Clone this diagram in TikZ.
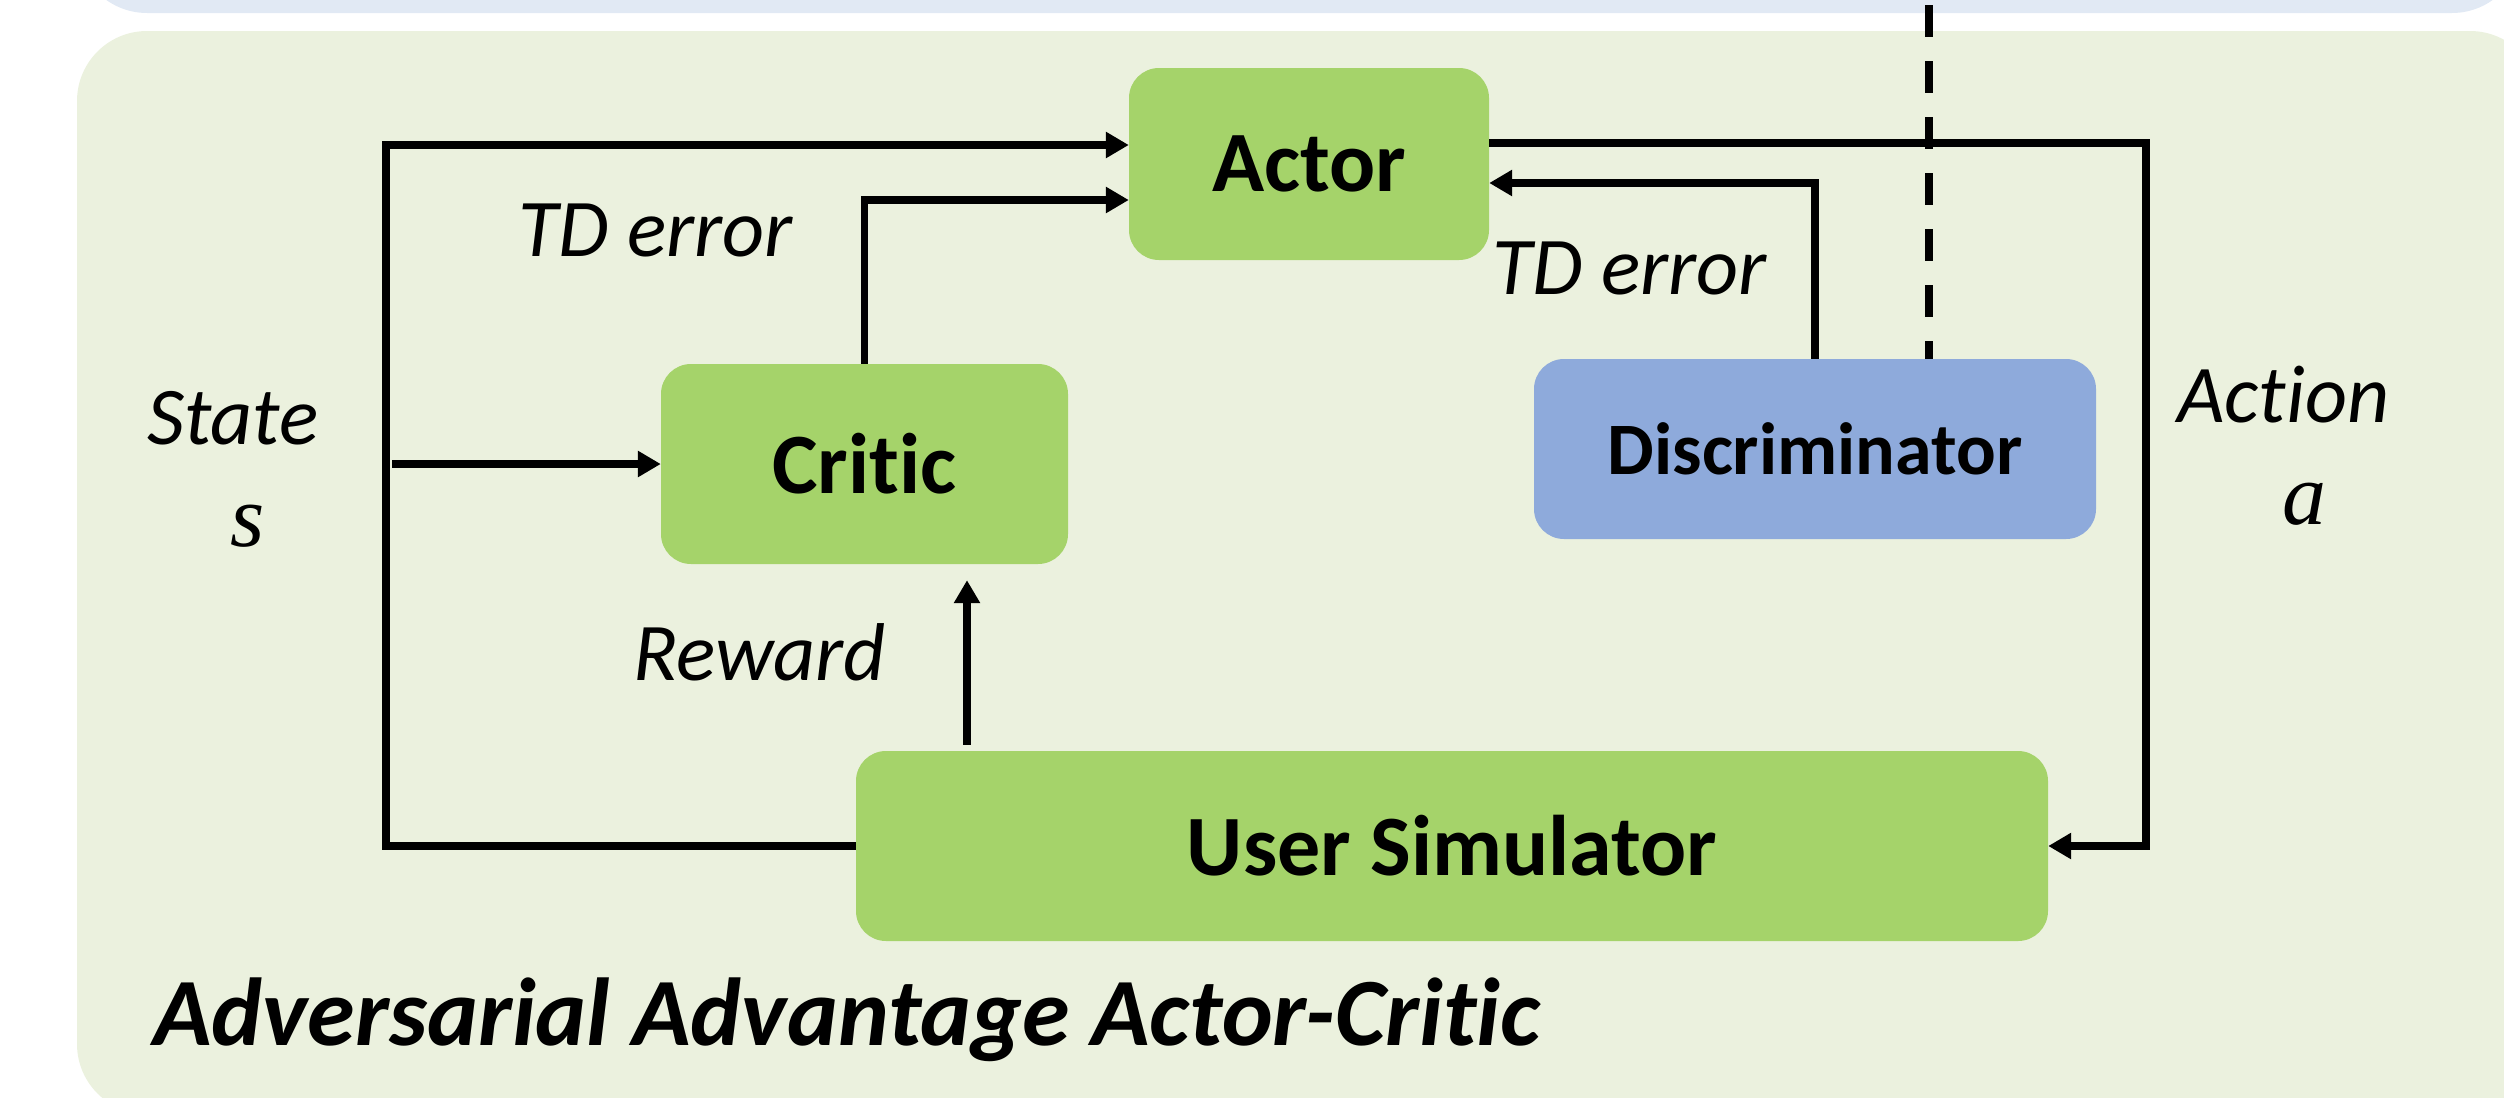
\documentclass[tikz,border=0pt]{standalone}
\usepackage{fontspec}
\setmainfont[Ligatures={NoCommon}]{Carlito}
\newfontfamily\varfont{Liberation Serif}
\usetikzlibrary{arrows.meta,calc}
\definecolor{panelgreen}{HTML}{EBF1DE}
\definecolor{bandblue}{HTML}{E1E9F4}
\definecolor{boxgreen}{HTML}{A5D36A}
\definecolor{boxblue}{HTML}{8EAADB}
\begin{document}
\begin{tikzpicture}[x=1pt,y=-1pt,
  box/.style={rounded corners=30pt, inner sep=0pt, font=\fontsize{86}{100}\selectfont\bfseries},
  lbl/.style={inner sep=0pt, anchor=base west, font=\fontsize{82}{96}\selectfont\itshape},
  varlbl/.style={inner sep=0pt, anchor=base, font=\fontsize{88}{100}\selectfont\varfont\itshape},
  conn/.style={line width=7.5pt},
  arr/.style={conn, -{Triangle[length=23pt,width=25pt]}},
]
\useasboundingbox (0,0) rectangle (2504,1098);
\begin{scope}
\clip (0,0) rectangle (2504,1098);
\fill[bandblue, rounded corners=70pt] (77,-300) rectangle (2522,13);
\fill[panelgreen, rounded corners=70pt] (77,31) rectangle (2540,1114);
\end{scope}

\node[box, fill=boxgreen, minimum width=360pt, minimum height=192pt] (actor) at (1309,164) {Actor};
\node[box, fill=boxgreen, minimum width=407pt, minimum height=200pt] (critic) at (864.5,464) {Critic};
\node[box, fill=boxblue, minimum width=562pt, minimum height=180pt, font=\fontsize{74}{90}\selectfont\bfseries] (disc) at (1815,449) {Discriminator};
\node[box, fill=boxgreen, minimum width=1192pt, minimum height=190pt] (us) at (1452,846) {User Simulator};

% coordinates for routing
\coordinate (stateTop) at (386,145);
\coordinate (stateBranch) at (392,464);
\coordinate (tdL) at (864.5,200);
\coordinate (rw) at (967,0);
\coordinate (actR) at (2146,143);
\coordinate (tdR) at (1815,183);
\coordinate (dtop) at (1929,5);

% connectors
\draw[arr] (us.west) -| (stateTop) -- (stateTop -| actor.west);
\draw[arr] (stateBranch) -- (critic.west);
\draw[arr] (critic.north) |- (actor.west |- tdL);
\draw[arr] ($(us.north -| rw)+(0,-6)$) -- ($(critic.south -| rw)+(0,16)$);
\draw[arr] (actor.east |- actR) -- (actR) |- (us.east);
\draw[arr] (disc.north) |- (actor.east |- tdR);
\draw[conn, dash pattern=on 32pt off 24pt] (dtop) -- (dtop |- disc.north);

% labels
\node[lbl] (tdl) at (518,256) {TD error};
\node[lbl] (tdr) at (1492,294) {TD error};
\node[lbl] (state) at (147,444) {State};
\node[varlbl] (svar) at (248,546) {s};
\node[lbl] (action) at (2177,422) {Action};
\node[varlbl] (avar) at (2304,524) {a};
\node[lbl] (reward) at (633,680) {Reward};
\node[lbl, font=\fontsize{96.5}{110}\selectfont\bfseries\itshape] (title) at (153,1045) {Adversarial Advantage Actor-Critic};
\end{tikzpicture}
\end{document}
